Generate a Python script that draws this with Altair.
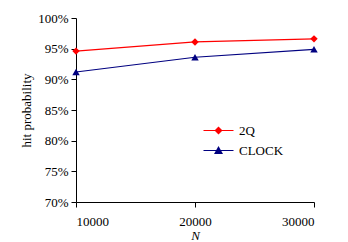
import altair as alt
import pandas as pd

N_values = [10000, 20000, 30000]
series_names = ["2Q", "CLOCK"]
hit_2q = [0.946, 0.961, 0.966]
hit_clock = [0.912, 0.936, 0.949]

rows = []
for name, vals in zip(series_names, [hit_2q, hit_clock]):
    for n, v in zip(N_values, vals):
        rows.append({"N": n, "hit": v, "series": name})
df = pd.DataFrame(rows)

colors = ["#FF0000", "#000080"]
FONT = "Liberation Serif"

x_enc = alt.X("N:Q", title="N",
              scale=alt.Scale(domain=[10000, 30000], nice=False, zero=False),
              axis=alt.Axis(values=N_values, format="d", titleFontStyle="italic"))
y_enc = alt.Y("hit:Q", title="hit probability",
              scale=alt.Scale(domain=[0.70, 1.00], nice=False, zero=False),
              axis=alt.Axis(values=[0.70, 0.75, 0.80, 0.85, 0.90, 0.95, 1.00], format=".0%"))
color_enc = alt.Color("series:N", scale=alt.Scale(domain=series_names, range=colors), legend=None)

lines = alt.Chart(df).mark_line(strokeWidth=1.2).encode(x=x_enc, y=y_enc, color=color_enc)
points = alt.Chart(df).mark_point(filled=True, opacity=1, size=55).encode(
    x=x_enc, y=y_enc, color=color_enc,
    shape=alt.Shape("series:N", scale=alt.Scale(domain=series_names, range=["diamond", "triangle-up"]), legend=None),
)

legend_paths = [
    "M-3,-0.1H3V0.1H-3Z M0,-0.8L0.8,0L0,0.8L-0.8,0Z",
    "M-3,-0.1H3V0.1H-3Z M0,-0.9L0.9,0.7L-0.9,0.7Z",
]
legend_y = [106, 126]

legend_layers = []
for name, path, col, ly in zip(series_names, legend_paths, colors, legend_y):
    leg = alt.Legend(title=None, orient="none", legendX=136, legendY=ly,
                     symbolOpacity=1, symbolStrokeWidth=0, labelOffset=14,
                     labelFont=FONT, labelFontSize=13, labelColor="black",
                     symbolSize=100)
    legend_layers.append(
        alt.Chart(df).transform_filter(alt.datum.series == name)
        .mark_point(filled=True, color=col, opacity=0, size=100, strokeWidth=0)
        .encode(x=x_enc, y=y_enc,
                shape=alt.Shape("series:N", scale=alt.Scale(domain=[name], range=[path]), legend=leg))
    )

chart = alt.layer(lines, points, *legend_layers).resolve_scale(shape="independent").properties(
    width=238, height=184,
    padding={"left": 68, "top": 10, "right": 26, "bottom": 40},
    autosize=alt.AutoSizeParams(type="none"),
    background="white",
).configure_view(stroke=None).configure_axis(
    grid=False, domainColor="black", tickColor="black", labelColor="black", titleColor="black",
    labelFont=FONT, titleFont=FONT, labelFontSize=13, titleFontSize=13,
    titleFontWeight="normal", tickSize=5, domainWidth=1, tickWidth=1, labelPadding=3,
).configure_axisX(labelPadding=8, titlePadding=1).configure_axisY(titlePadding=4)

chart.save("out.html", embed_options={"renderer": "svg", "actions": False})
